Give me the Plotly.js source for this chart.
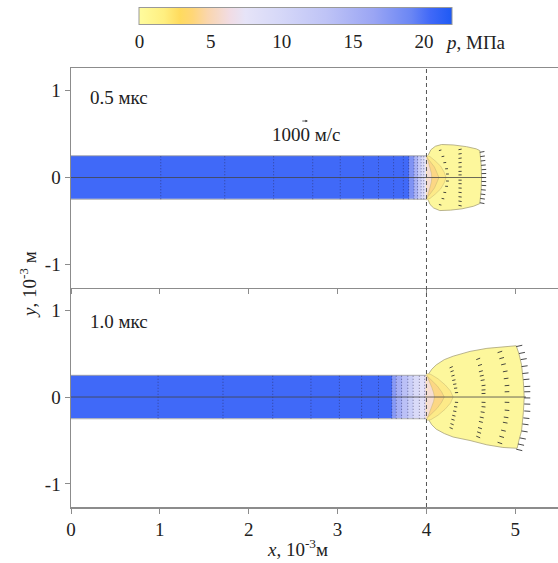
<!DOCTYPE html>
<html>
<head>
<meta charset="utf-8">
<script src="https://cdn.plot.ly/plotly-3.0.1.min.js"></script>
<style>
html,body{margin:0;padding:0;background:#fff;}
#chart{width:558px;height:563px;}
</style>
</head>
<body>
<div id="chart"></div>
<script>
// ---------- data ----------
const xTickVals = [0, 1, 2, 3, 4, 5];
const yTickVals = [-1, 0, 1];
const yTickText = ['-1', '0', '1'];
const cbTickVals = [0, 5, 10, 15, 20];
const pMin = 0, pMax = 22;          // MPa
const jetHalf = 0.25;               // 10^-3 m
const nozzleX = 4;                  // 10^-3 m
const velScale = 8e-5;              // plot units per m/s
const refVel = 1000;                // m/s
const timeLabels = ['0.5 мкс', '1.0 мкс'];

// jet mesh edges and pressure (MPa)
const meshEdges05 = [0, 1.01, 1.73, 2.28, 2.72, 3.03, 3.29, 3.46, 3.63, 3.74, 3.80, 3.86, 3.90, 3.94, 3.97, 4.0];
const pJet05      = [20.5, 20.5, 20.5, 20.5, 20.5, 20.5, 20.5, 20.5, 20.5, 20.5, 18, 15, 12, 9.5, 7.5];
const meshEdges10 = [0, 0.98, 1.71, 2.27, 2.70, 3.02, 3.27, 3.46, 3.61, 3.66, 3.72, 3.79, 3.85, 3.92, 3.98, 4.0];
const pJet10      = [20.5, 20.5, 20.5, 20.5, 20.5, 20.5, 20.5, 20.5, 17.5, 15.5, 13.5, 11.5, 9.5, 8, 6.5];

// droplet cloud outline, 0.5 us
const cloud05X = [4.02, 4.05, 4.10, 4.17, 4.30, 4.45, 4.56, 4.60, 4.615, 4.62, 4.615, 4.60, 4.53, 4.40, 4.27, 4.15, 4.08, 4.04, 4.02];
const cloud05Y = [0.26, 0.32, 0.36, 0.38, 0.375, 0.355, 0.33, 0.31, 0.15, 0.0, -0.15, -0.30, -0.33, -0.36, -0.375, -0.38, -0.35, -0.31, -0.26];
// pressure layers, 0.5 us (p ~2, ~3.3, ~6 MPa)
const layerA05X = [4.0, 4.04, 4.10, 4.16, 4.20, 4.22, 4.20, 4.16, 4.10, 4.04, 4.0];
const layerA05Y = [0.26, 0.24, 0.19, 0.13, 0.06, 0, -0.06, -0.13, -0.19, -0.24, -0.26];
const layerB05X = [4.0, 4.04, 4.09, 4.12, 4.14, 4.12, 4.09, 4.04, 4.0];
const layerB05Y = [0.24, 0.19, 0.12, 0.05, 0, -0.05, -0.12, -0.19, -0.24];
const layerC05X = [4.0, 4.02, 4.04, 4.055, 4.06, 4.055, 4.04, 4.02, 4.0];
const layerC05Y = [0.26, 0.19, 0.11, 0.05, 0, -0.05, -0.11, -0.19, -0.26];

// droplet cloud outline, 1.0 us
const cloud10X = [4.02, 4.06, 4.11, 4.20, 4.30, 4.49, 4.68, 4.86, 5.01, 5.04, 5.07, 5.09, 5.10, 5.09, 5.07, 5.04, 5.02, 4.86, 4.68, 4.49, 4.30, 4.20, 4.11, 4.06, 4.02];
const cloud10Y = [0.26, 0.32, 0.37, 0.43, 0.47, 0.525, 0.56, 0.58, 0.59, 0.50, 0.37, 0.18, 0.0, -0.18, -0.39, -0.50, -0.59, -0.58, -0.55, -0.50, -0.46, -0.42, -0.37, -0.32, -0.255];
const layerA10X = [4.0, 4.05, 4.13, 4.21, 4.27, 4.30, 4.27, 4.21, 4.13, 4.05, 4.0];
const layerA10Y = [0.27, 0.26, 0.21, 0.14, 0.07, 0, -0.07, -0.14, -0.21, -0.26, -0.27];
const layerB10X = [4.0, 4.05, 4.12, 4.17, 4.20, 4.17, 4.12, 4.05, 4.0];
const layerB10Y = [0.25, 0.20, 0.13, 0.06, 0, -0.06, -0.13, -0.20, -0.25];
const layerC10X = [4.0, 4.03, 4.06, 4.08, 4.09, 4.08, 4.06, 4.03, 4.0];
const layerC10Y = [0.26, 0.19, 0.11, 0.05, 0, -0.05, -0.11, -0.19, -0.26];

// velocity vectors, 0.5 us (start x, y; u, v in m/s)
const vec05X = [4.14, 4.17, 4.19, 4.21, 4.22, 4.22, 4.21, 4.19, 4.17, 4.14,
                4.36, 4.36, 4.36, 4.36, 4.36, 4.36, 4.36, 4.36, 4.36, 4.36, 4.36, 4.36, 4.36, 4.36,
                4.60, 4.605, 4.61, 4.615, 4.62, 4.62, 4.62, 4.62, 4.62, 4.615, 4.61, 4.605, 4.60];
const vec05Y = [0.31, 0.24, 0.17, 0.10, 0.04, -0.04, -0.10, -0.17, -0.24, -0.31,
                0.32, 0.27, 0.22, 0.17, 0.12, 0.07, 0.03, -0.03, -0.07, -0.12, -0.17, -0.22, -0.27, -0.32,
                0.29, 0.24, 0.19, 0.14, 0.09, 0.045, 0, -0.045, -0.09, -0.14, -0.19, -0.24, -0.29];
const vec05U = [350, 380, 400, 400, 400, 400, 400, 400, 380, 350,
                450, 450, 450, 450, 450, 450, 450, 450, 450, 450, 450, 450, 450, 450,
                650, 650, 650, 650, 650, 650, 650, 650, 650, 650, 650, 650, 650];
const vec05V = [90, 70, 45, 25, 8, -8, -25, -45, -70, -90,
                90, 75, 60, 45, 30, 18, 6, -6, -18, -30, -45, -60, -75, -90,
                120, 100, 80, 60, 40, 20, 0, -20, -40, -60, -80, -100, -120];

// velocity vectors, 1.0 us
const vec10X = [4.26, 4.27, 4.28, 4.29, 4.30, 4.31, 4.32, 4.32, 4.31, 4.30, 4.29, 4.28, 4.27, 4.26,
                4.56, 4.58, 4.59, 4.60, 4.61, 4.62, 4.62, 4.62, 4.62, 4.62, 4.61, 4.60, 4.59, 4.58, 4.57, 4.56,
                4.80, 4.82, 4.84, 4.86, 4.87, 4.88, 4.88, 4.88, 4.88, 4.87, 4.86, 4.84, 4.82, 4.80,
                5.01, 5.04, 5.06, 5.07, 5.08, 5.09, 5.10, 5.10, 5.10, 5.10, 5.10, 5.09, 5.08, 5.07, 5.05, 5.03, 5.01];
const vec10Y = [0.335, 0.29, 0.24, 0.19, 0.145, 0.10, 0.05, -0.06, -0.11, -0.16, -0.21, -0.255, -0.305, -0.35,
                0.43, 0.36, 0.29, 0.24, 0.19, 0.13, 0.08, 0.04, -0.06, -0.11, -0.17, -0.23, -0.28, -0.35, -0.40, -0.45,
                0.51, 0.44, 0.37, 0.29, 0.21, 0.13, 0.06, -0.06, -0.15, -0.23, -0.29, -0.38, -0.45, -0.52,
                0.58, 0.50, 0.43, 0.35, 0.27, 0.20, 0.12, 0.06, -0.01, -0.08, -0.16, -0.24, -0.31, -0.39, -0.47, -0.54, -0.60];
const vec10U = [450, 450, 450, 450, 450, 450, 450, 450, 450, 450, 450, 450, 450, 450,
                550, 550, 550, 550, 550, 550, 550, 550, 550, 550, 550, 550, 550, 550, 550, 550,
                650, 650, 650, 650, 650, 650, 650, 650, 650, 650, 650, 650, 650, 650,
                850, 850, 850, 850, 850, 850, 850, 850, 850, 850, 850, 850, 850, 850, 850, 850, 850];
const vec10V = [200, 170, 140, 110, 80, 55, 25, -30, -60, -90, -120, -150, -180, -200,
                220, 190, 160, 130, 105, 75, 45, 20, -30, -60, -95, -125, -155, -190, -215, -240,
                220, 190, 160, 125, 90, 55, 25, -25, -65, -100, -125, -165, -195, -225,
                200, 175, 150, 125, 100, 75, 45, 22, -5, -30, -60, -90, -115, -140, -170, -190, -210];

// ---------- styles ----------
const FONT = 'Liberation Serif';
const AX = '#8c8c8c';
const colorscale = [
  [0.00, '#FFFC9E'], [0.08, '#FFEF80'], [0.13, '#FFDB5E'], [0.17, '#FFD676'],
  [0.22, '#FAD6AE'], [0.29, '#F1DCE4'], [0.34, '#E6E4F8'], [0.45, '#D6D8F8'],
  [0.60, '#BEC3F6'], [0.75, '#9AA5F4'], [0.87, '#6A86F4'], [0.93, '#4169F8'], [1.00, '#1E5AF4']
];
const cPale = '#FDF79C', cMid = '#FDEA88', cOrange = '#FCD784', cPink = '#F6DDD3';

function meshTrace(edges, xa, ya) {
  const xs = [], ys = [];
  for (let i = 1; i < edges.length - 1; i++) { xs.push(edges[i], edges[i], null); ys.push(-jetHalf, jetHalf, null); }
  return {type: 'scatter', mode: 'lines', x: xs, y: ys, xaxis: xa, yaxis: ya,
          line: {color: '#2a2a5a', width: 0.6, dash: '1px,2px'}, hoverinfo: 'skip', showlegend: false};
}
function jetTrace(edges, p, xa, ya) {
  return {type: 'heatmap', x: edges, y: [-jetHalf, jetHalf], z: [p], xaxis: xa, yaxis: ya,
          coloraxis: 'coloraxis', zsmooth: false, hoverinfo: 'skip'};
}
function jetEdge(xa, ya) {
  return {type: 'scatter', mode: 'lines', x: [0, nozzleX, null, 0, nozzleX], y: [jetHalf, jetHalf, null, -jetHalf, -jetHalf],
          xaxis: xa, yaxis: ya, line: {color: '#9a9a9a', width: 0.8}, hoverinfo: 'skip', showlegend: false};
}
function fillTrace(X, Y, col, xa, ya, lineCol) {
  return {type: 'scatter', mode: 'lines', x: X, y: Y, fill: 'toself', fillcolor: col, xaxis: xa, yaxis: ya,
          line: {color: lineCol, width: 0.8}, hoverinfo: 'skip', showlegend: false};
}
function layerTrace(X, Y, col, xa, ya) {
  return {type: 'scatter', mode: 'lines', x: X, y: Y, fill: 'toself', fillcolor: col, xaxis: xa, yaxis: ya,
          line: {color: 'rgba(185,170,110,0.7)', width: 0.6}, hoverinfo: 'skip', showlegend: false};
}
function centerLine(cloudX, xa, ya) {
  return {type: 'scatter', mode: 'lines', x: [0, Math.max(...cloudX) + 0.02], y: [0, 0], xaxis: xa, yaxis: ya,
          line: {color: '#444', width: 0.8}, hoverinfo: 'skip', showlegend: false};
}
function arrowTrace(X, Y, U, V, xa, ya) {
  const xs = [], ys = [];
  for (let i = 0; i < X.length; i++) {
    xs.push(X[i], X[i] + U[i] * velScale, null);
    ys.push(Y[i], Y[i] + V[i] * velScale, null);
  }
  return {type: 'scatter', mode: 'lines', x: xs, y: ys, xaxis: xa, yaxis: ya,
          line: {color: '#333', width: 0.9}, hoverinfo: 'skip', showlegend: false};
}

const traces = [
  jetTrace(meshEdges05, pJet05, 'x', 'y'),
  jetEdge('x', 'y'),
  meshTrace(meshEdges05, 'x', 'y'),
  fillTrace(cloud05X, cloud05Y, cPale, 'x', 'y', '#a8a27a'),
  layerTrace(layerA05X, layerA05Y, cMid, 'x', 'y'),
  layerTrace(layerB05X, layerB05Y, cOrange, 'x', 'y'),
  layerTrace(layerC05X, layerC05Y, cPink, 'x', 'y'),
  centerLine(cloud05X, 'x', 'y'),
  arrowTrace(vec05X, vec05Y, vec05U, vec05V, 'x', 'y'),

  jetTrace(meshEdges10, pJet10, 'x2', 'y2'),
  jetEdge('x2', 'y2'),
  meshTrace(meshEdges10, 'x2', 'y2'),
  fillTrace(cloud10X, cloud10Y, cPale, 'x2', 'y2', '#a8a27a'),
  layerTrace(layerA10X, layerA10Y, cMid, 'x2', 'y2'),
  layerTrace(layerB10X, layerB10Y, cOrange, 'x2', 'y2'),
  layerTrace(layerC10X, layerC10Y, cPink, 'x2', 'y2'),
  centerLine(cloud10X, 'x2', 'y2'),
  arrowTrace(vec10X, vec10Y, vec10U, vec10V, 'x2', 'y2')
];

const xRange = [0, 5.48];
const yRange = [-1.265, 1.26];
const tickFont = {family: FONT, size: 19, color: '#222'};
const axBase = {showgrid: false, zeroline: false, showline: true, linecolor: AX, linewidth: 1.5,
                ticks: 'outside', ticklen: 5, tickcolor: AX, tickwidth: 1, tickfont: tickFont};

const layout = {
  width: 558, height: 563,
  margin: {l: 71, r: 0, t: 68, b: 56},
  paper_bgcolor: '#fff', plot_bgcolor: '#fff',
  showlegend: false,
  xaxis: Object.assign({}, axBase, {domain: [0, 1], anchor: 'y', range: xRange, tickvals: xTickVals,
                                    showticklabels: false, mirror: true}),
  yaxis: Object.assign({}, axBase, {domain: [0.5, 1], anchor: 'x', range: yRange, tickvals: yTickVals, ticktext: yTickText}),
  xaxis2: Object.assign({}, axBase, {domain: [0, 1], anchor: 'y2', range: xRange, tickvals: xTickVals}),
  yaxis2: Object.assign({}, axBase, {domain: [0, 0.5], anchor: 'x2', range: yRange, tickvals: yTickVals, ticktext: yTickText}),
  coloraxis: {
    cmin: pMin, cmax: pMax, colorscale: colorscale, showscale: true,
    colorbar: {orientation: 'h', x: 0.462, xanchor: 'center', y: 1.094, yanchor: 'middle',
               len: 313, lenmode: 'pixels', thickness: 17, xpad: 0, ypad: 0,
               tickvals: cbTickVals, ticks: '', outlinecolor: '#999', outlinewidth: 1,
               tickfont: tickFont}
  },
  shapes: [
    {type: 'line', xref: 'x2', yref: 'paper', x0: nozzleX, x1: nozzleX, y0: 0, y1: 1,
     line: {color: '#555', width: 1, dash: '4px,3px'}}
  ],
  annotations: [
    {xref: 'x', yref: 'y', x: 0.19, y: 0.915, text: timeLabels[0], showarrow: false, xanchor: 'left', yanchor: 'middle', font: {family: FONT, size: 19, color: '#222'}},
    {xref: 'x2', yref: 'y2', x: 0.19, y: 0.87, text: timeLabels[1], showarrow: false, xanchor: 'left', yanchor: 'middle', font: {family: FONT, size: 19, color: '#222'}},
    {xref: 'x', yref: 'y', x: 2.65, y: 0.49, text: refVel + ' м/с', showarrow: false, xanchor: 'center', yanchor: 'middle', font: {family: FONT, size: 19, color: '#222'}},
    {xref: 'x', yref: 'y', x: 2.665 , y: 0.65, ax: -refVel * velScale * 88, ay: 0, text: '', showarrow: true,
     arrowhead: 2, arrowsize: 0.6, arrowwidth: 0.8, arrowcolor: '#333', standoff: 0},
    {xref: 'paper', yref: 'paper', x: -0.088, y: 0.506, text: '<i>y</i>, 10<sup>-3</sup> м', textangle: -90, showarrow: false,
     xanchor: 'center', yanchor: 'middle', font: {family: FONT, size: 19, color: '#222'}},
    {xref: 'paper', yref: 'paper', x: 0.466, y: -0.093, text: '<i>x</i>, 10<sup>-3</sup>м', showarrow: false,
     xanchor: 'center', yanchor: 'middle', font: {family: FONT, size: 19, color: '#222'}},
    {xref: 'paper', yref: 'paper', x: 0.764, y: 1.059, text: '<i>p</i>, МПа', showarrow: false,
     xanchor: 'left', yanchor: 'middle', font: {family: FONT, size: 19, color: '#222'}}
  ]
};

Plotly.newPlot('chart', traces, layout, {displayModeBar: false, staticPlot: true});
</script>
</body>
</html>
